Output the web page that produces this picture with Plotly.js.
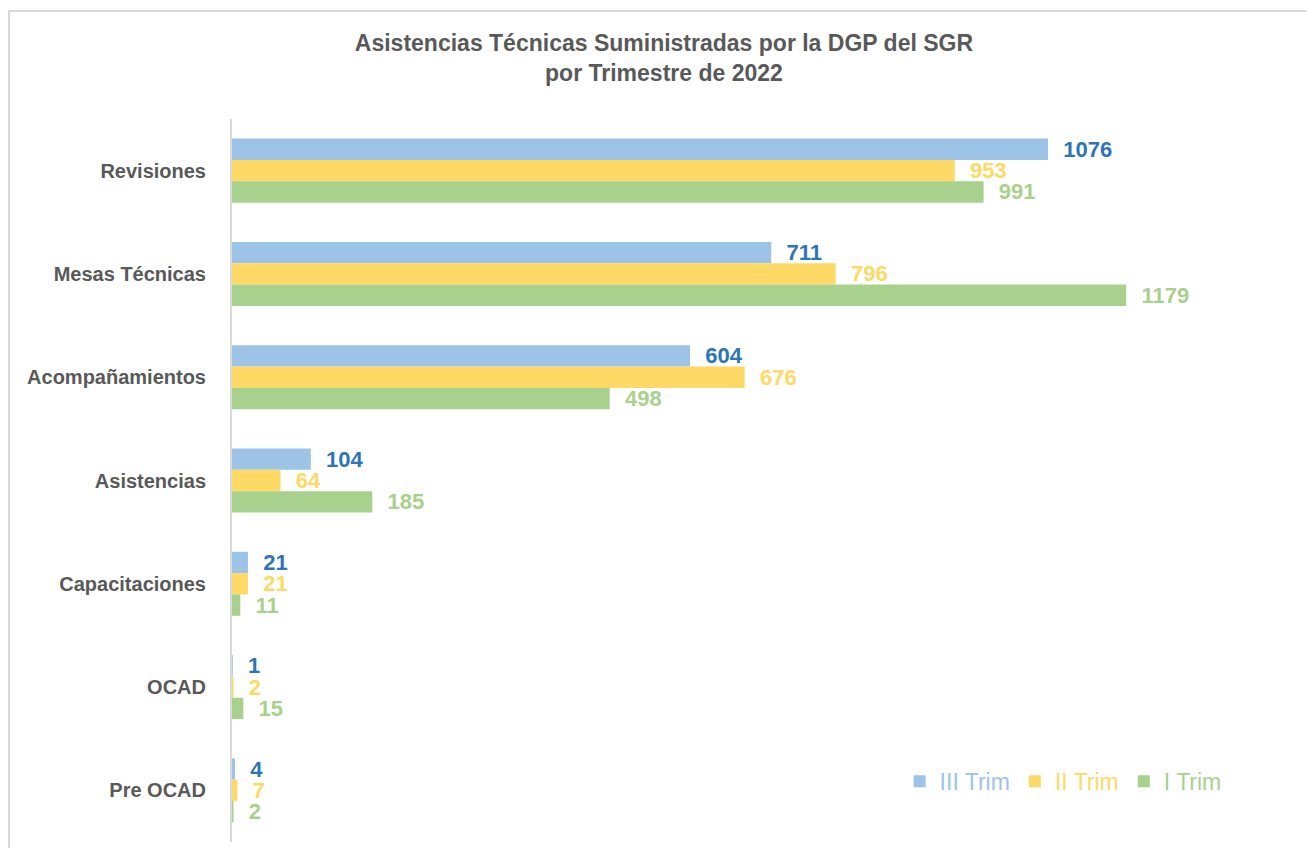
<!DOCTYPE html>
<html>
<head>
<meta charset="utf-8">
<script src="https://cdn.plot.ly/plotly-3.0.1.min.js"></script>
<style>
  html, body { margin: 0; padding: 0; background: #fff; }
  #frame { position: absolute; left: 8px; top: 10px; width: 1400px; height: 900px; border: 2px solid #d9d9d9; box-sizing: border-box; }
  #chart { position: absolute; left: 0; top: 0; width: 1307px; height: 848px; }
</style>
</head>
<body>
<div id="frame"></div>
<div id="chart"></div>
<script>
const categories = ["Revisiones", "Mesas Técnicas", "Acompañamientos", "Asistencias", "Capacitaciones", "OCAD", "Pre OCAD"];
const seriesNames = ["III Trim", "II Trim", "I Trim"];
const trim3 = [1076, 711, 604, 104, 21, 1, 4];
const trim2 = [953, 796, 676, 64, 21, 2, 7];
const trim1 = [991, 1179, 498, 185, 11, 15, 2];

const barColors = ["#9dc3e6", "#ffd966", "#a9d18e"];
const labelColors = ["#2e75b6", "#ffd966", "#a9d18e"];
const font = "Liberation Sans, Arial, sans-serif";

const values = [trim3, trim2, trim1];
const traces = values.map((v, i) => ({
  type: "bar",
  orientation: "h",
  y: categories,
  x: v,
  name: '<span style="color:' + barColors[i] + '">' + seriesNames[i] + '</span>',
  marker: { color: barColors[i] },
  text: v.map(String),
  texttemplate: "\u00a0\u00a0%{text}",
  textposition: "outside",
  constraintext: "none",
  cliponaxis: false,
  textfont: { family: font, size: 22, color: labelColors[i], weight: "bold" },
  hoverinfo: "x+y"
}));

const layout = {
  width: 1307,
  height: 848,
  paper_bgcolor: "rgba(0,0,0,0)",
  plot_bgcolor: "rgba(0,0,0,0)",
  margin: { l: 232, r: 17, t: 119, b: 6 },
  title: {
    text: "<b>Asistencias Técnicas Suministradas por la DGP del SGR<br>por Trimestre de 2022</b>",
    x: 0.508, xanchor: "center",
    y: 0.94, yanchor: "top",
    font: { family: font, size: 23, color: "#595959", lineposition: "none" }
  },
  barmode: "group",
  bargap: 0.38,
  bargroupgap: 0,
  xaxis: {
    range: [0, 1395],
    showgrid: false, zeroline: false, showticklabels: false, showline: false, ticks: ""
  },
  yaxis: {
    type: "category",
    autorange: "reversed",
    showline: true, linecolor: "#d9d9d9", linewidth: 2,
    showgrid: false, zeroline: false, ticks: "",
    ticklabelstandoff: 20,
    tickfont: { family: font, size: 20, color: "#595959", weight: "bold" }
  },
  showlegend: true,
  legend: {
    orientation: "h",
    x: 0.631, xanchor: "left",
    y: 0.084, yanchor: "middle",
    font: { family: font, size: 23 },
    bgcolor: "rgba(0,0,0,0)",
    itemwidth: 30,
    traceorder: "normal"
  }
};

Plotly.newPlot("chart", traces, layout, { displayModeBar: false, staticPlot: true });
</script>
</body>
</html>
